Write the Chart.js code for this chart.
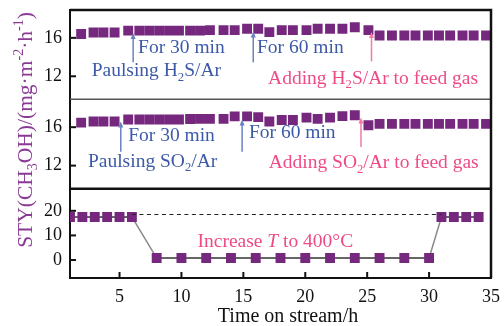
<!DOCTYPE html>
<html>
<head>
<meta charset="utf-8">
<script src="https://cdn.jsdelivr.net/npm/chart.js@4.4.1/dist/chart.umd.min.js"></script>
<style>
  html, body { margin: 0; padding: 0; background: #fff; }
</style>
</head>
<body>
<canvas id="Chart1" width="504" height="326"></canvas>
<script>
// time on stream (h) for the two pulse experiments
const timeGas = [1.9, 2.9, 3.7, 4.6, 5.7, 6.6, 7.4, 8.2, 9.0, 9.8, 10.7, 11.5, 12.3, 13.4, 14.3, 15.3, 16.2, 17.1,
    18.1, 19.0, 20.1, 21.0, 22.0, 23.0, 24.0, 25.1, 26.0, 27.0, 28.0, 28.9, 29.9, 30.8, 31.7, 32.7, 33.6, 34.6];
const styH2S = [16.4, 16.55, 16.55, 16.55, 16.75, 16.75, 16.75, 16.75, 16.75, 16.75, 16.75, 16.75, 16.8, 16.8, 16.8,
    16.95, 16.95, 16.6, 16.8, 16.8, 16.8, 16.95, 16.95, 16.95, 17.1, 16.8,
    16.25, 16.25, 16.25, 16.25, 16.25, 16.25, 16.25, 16.25, 16.25, 16.25];
const stySO2 = [16.48, 16.6, 16.6, 16.6, 16.8, 16.8, 16.8, 16.8, 16.8, 16.8, 16.85, 16.87, 16.87, 16.87, 17.13,
    17.13, 17.05, 16.6, 16.75, 16.75, 17.0, 16.87, 17.0, 17.15, 17.25, 16.2,
    16.35, 16.35, 16.35, 16.35, 16.35, 16.35, 16.35, 16.35, 16.35, 16.35];
// temperature step experiment
const timeHeat = [1, 2, 3, 4, 5, 6, 8, 10, 12, 14, 16, 18, 20, 22, 24, 26, 28, 30, 31, 32, 33, 34];
const styHeat = [17.5, 17.5, 17.5, 17.5, 17.5, 17.5, 0.8, 0.8, 0.8, 0.8, 0.8, 0.8, 0.8, 0.8, 0.8, 0.8, 0.8, 0.8,
    17.5, 17.5, 17.5, 17.5];
const refTime = [6, 31];
const refSty = [18.5, 18.5];

const xTicks = [5, 10, 15, 20, 25, 30, 35];
const gasTicks = [12, 16];
const heatTicks = [0, 10, 20];

const serif = '"Liberation Serif", "Times New Roman", serif';
const purple = '#76287f';
const blue = '#3d5aa8';
const blueLine = '#6a82c4';
const pink = '#ee4a86';
const pinkLine = '#f27aa3';

Chart.defaults.font.family = serif;
Chart.defaults.color = '#111';

function pts(xs, ys) {
    return xs.map((x, i) => ({ x: x, y: ys[i] }));
}

// notes and arrows, placed in data units of each panel
const notes = [
    { axis: 'yH2S', x: 6.5, y: 14.45, color: blue, runs: [['For 30 min']] },
    { axis: 'yH2S', x: 2.75, y: 12.0, color: blue, runs: [['Paulsing H'], ['2', 'sub'], ['S/Ar']] },
    { axis: 'yH2S', x: 16.1, y: 14.45, color: blue, runs: [['For 60 min']] },
    { axis: 'yH2S', x: 17.0, y: 11.2, color: pink, runs: [['Adding H'], ['2', 'sub'], ['S/Ar to feed gas']] },
    { axis: 'ySO2', x: 5.7, y: 14.55, color: blue, runs: [['For 30 min']] },
    { axis: 'ySO2', x: 2.45, y: 11.9, color: blue, runs: [['Paulsing SO'], ['2', 'sub'], ['/Ar']] },
    { axis: 'ySO2', x: 15.45, y: 14.85, color: blue, runs: [['For 60 min']] },
    { axis: 'ySO2', x: 17.05, y: 11.7, color: pink, runs: [['Adding SO'], ['2', 'sub'], ['/Ar to feed gas']] },
    { axis: 'yHeat', x: 11.3, y: 5.3, color: pink, runs: [['Increase '], ['T', 'it'], [' to 400°C']] }
];
const arrows = [
    { axis: 'yH2S', x: 6.1, from: 13.45, to: 16.5, color: blueLine },
    { axis: 'yH2S', x: 15.8, from: 13.45, to: 16.65, color: blueLine },
    { axis: 'yH2S', x: 25.35, from: 13.55, to: 16.6, color: pinkLine },
    { axis: 'ySO2', x: 5.1, from: 13.45, to: 16.6, color: blueLine },
    { axis: 'ySO2', x: 14.9, from: 13.45, to: 16.8, color: blueLine },
    { axis: 'ySO2', x: 24.5, from: 13.95, to: 17.0, color: pinkLine }
];

function runFont(kind, size) {
    const s = (kind === 'sub' || kind === 'sup') ? size * 0.65 : size;
    return (kind === 'it' ? 'italic ' : '') + s + 'px ' + serif;
}
function runsWidth(ctx, runs, size) {
    let w = 0;
    runs.forEach(r => { ctx.font = runFont(r[1], size); w += ctx.measureText(r[0]).width; });
    return w;
}
function drawRuns(ctx, runs, x, y, size) {
    ctx.textAlign = 'left';
    ctx.textBaseline = 'alphabetic';
    runs.forEach(r => {
        ctx.font = runFont(r[1], size);
        let dy = 0;
        if (r[1] === 'sub') dy = size * 0.22;
        if (r[1] === 'sup') dy = -size * 0.4;
        ctx.fillText(r[0], x, y + dy);
        x += ctx.measureText(r[0]).width;
    });
}

const decorations = {
    id: 'decorations',
    afterDatasetsDraw(chart) {
        const ctx = chart.ctx;
        const sx = chart.scales.x;
        ctx.save();
        arrows.forEach(a => {
            const sy = chart.scales[a.axis];
            const x = sx.getPixelForValue(a.x);
            const y0 = sy.getPixelForValue(a.from);
            const y1 = sy.getPixelForValue(a.to);
            ctx.strokeStyle = a.color;
            ctx.fillStyle = a.color;
            ctx.lineWidth = 1.5;
            ctx.beginPath();
            ctx.moveTo(x, y0);
            ctx.lineTo(x, y1 + 4);
            ctx.stroke();
            ctx.beginPath();
            ctx.moveTo(x, y1);
            ctx.lineTo(x - 2.5, y1 + 6);
            ctx.lineTo(x + 2.5, y1 + 6);
            ctx.closePath();
            ctx.fill();
        });
        notes.forEach(n => {
            const sy = chart.scales[n.axis];
            ctx.fillStyle = n.color;
            drawRuns(ctx, n.runs, sx.getPixelForValue(n.x), sy.getPixelForValue(n.y), 19.5);
        });
        ctx.restore();
    },
    afterDraw(chart) {
        const ctx = chart.ctx;
        const area = chart.chartArea;
        const sx = chart.scales.x;
        ctx.save();
        // inward tick marks
        ctx.strokeStyle = '#111';
        ctx.lineWidth = 2;
        sx.ticks.forEach(t => {
            const x = sx.getPixelForValue(t.value);
            ctx.beginPath();
            ctx.moveTo(x, area.bottom);
            ctx.lineTo(x, area.bottom - 6);
            ctx.stroke();
        });
        ['yH2S', 'ySO2', 'yHeat'].forEach(id => {
            const s = chart.scales[id];
            s.ticks.forEach(t => {
                const y = s.getPixelForValue(t.value);
                ctx.beginPath();
                ctx.moveTo(area.left, y);
                ctx.lineTo(area.left + 6, y);
                ctx.stroke();
            });
        });
        // panel frame
        const mid1 = chart.scales.yH2S.bottom;
        const mid2 = chart.scales.ySO2.bottom;
        ctx.strokeStyle = '#555';
        ctx.lineWidth = 1.5;
        ctx.beginPath();
        ctx.moveTo(area.left, mid1);
        ctx.lineTo(area.right, mid1);
        ctx.stroke();
        ctx.strokeStyle = '#111';
        ctx.lineWidth = 2.5;
        ctx.beginPath();
        ctx.moveTo(area.left, mid2);
        ctx.lineTo(area.right, mid2);
        ctx.moveTo(area.left, area.top);
        ctx.lineTo(area.right, area.top);
        ctx.lineTo(area.right, area.bottom);
        ctx.stroke();
        // axis titles
        ctx.fillStyle = '#111';
        const xt = [['Time on stream/h']];
        drawRuns(ctx, xt, 288 - runsWidth(ctx, xt, 20) / 2, 322, 20);
        const yt = [['STY(CH'], ['3', 'sub'], ['OH)/(mg·m'], ['-2', 'sup'], ['·h'], ['-1', 'sup'], [')']];
        ctx.translate(32, 130);
        ctx.rotate(-Math.PI / 2);
        ctx.fillStyle = '#8a3a95';
        drawRuns(ctx, yt, -runsWidth(ctx, yt, 21.5) / 2, 0, 21.5);
        ctx.restore();
    }
};

function panelAxis(ticksList, min, max) {
    return {
        type: 'linear',
        position: 'left',
        stack: 'sty',
        stackWeight: 1,
        min: min,
        max: max,
        afterBuildTicks: s => { s.ticks = ticksList.map(v => ({ value: v })); },
        afterFit: s => { s.width = 70; s.paddingTop = 0; s.paddingBottom = 0; },
        grid: { display: false, drawTicks: false },
        border: { color: '#111', width: 2 },
        ticks: { font: { size: 18 }, color: '#111', padding: 8 }
    };
}

const squares = {
    showLine: false,
    pointStyle: 'rect',
    pointRadius: 7,
    pointBorderWidth: 0,
    pointBackgroundColor: purple,
    borderColor: purple
};

new Chart(document.getElementById('Chart1').getContext('2d'), {
    type: 'line',
    data: {
        datasets: [
            Object.assign({ data: pts(timeGas, styH2S), yAxisID: 'yH2S' }, squares),
            Object.assign({ data: pts(timeGas, stySO2), yAxisID: 'ySO2' }, squares),
            {
                data: pts(refTime, refSty), yAxisID: 'yHeat',
                borderColor: '#222', borderWidth: 1, borderDash: [4, 3.5], pointRadius: 0
            },
            {
                data: pts(timeHeat, styHeat), yAxisID: 'yHeat',
                borderColor: '#333', borderWidth: 1.5,
                segment: { borderColor: c => c.p0.parsed.y !== c.p1.parsed.y ? '#8a8a8a' : '#333' },
                pointStyle: 'rect', pointRadius: 7, pointBorderWidth: 0, pointBackgroundColor: purple
            }
        ]
    },
    options: {
        responsive: false,
        animation: false,
        devicePixelRatio: 1,
        layout: { padding: { left: 0, top: 10, right: 13, bottom: 0 } },
        plugins: { legend: { display: false }, tooltip: { enabled: false } },
        scales: {
            x: {
                type: 'linear',
                min: 1,
                max: 35,
                afterBuildTicks: s => { s.ticks = xTicks.map(v => ({ value: v })); },
                afterFit: s => { s.height = 48; s.paddingLeft = 0; s.paddingRight = 0; },
                grid: { display: false, drawTicks: false },
                border: { color: '#111', width: 2 },
                ticks: { font: { size: 18 }, color: '#111', padding: 8 }
            },
            // stacked panels are laid out bottom-up in the order listed here
            yHeat: panelAxis(heatTicks, -7.3, 29),
            ySO2: panelAxis(gasTicks, 9.6, 18.9),
            yH2S: panelAxis(gasTicks, 9.6, 18.9)
        }
    },
    plugins: [decorations]
});
</script>
</body>
</html>
